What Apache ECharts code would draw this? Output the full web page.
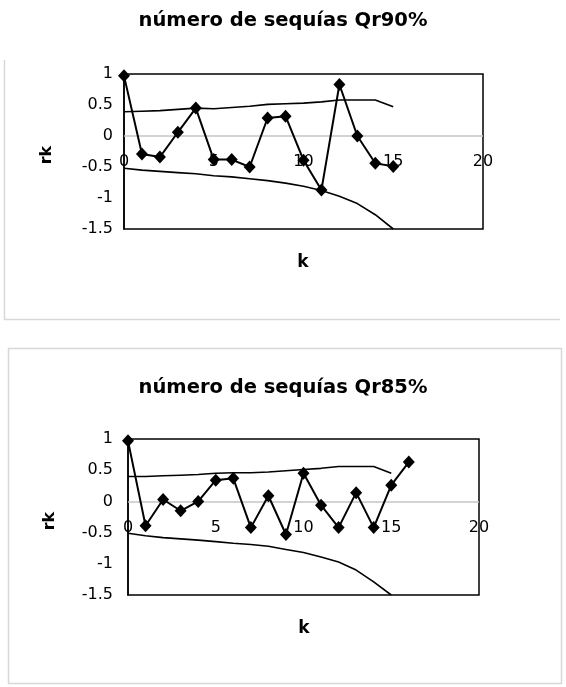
<!DOCTYPE html>
<html>
<head>
<meta charset="utf-8">
<script src="https://cdn.jsdelivr.net/npm/echarts@6/dist/echarts.min.js"></script>
<style>
html,body{margin:0;padding:0;background:#fff;}
#chart{width:566px;height:687px;}
</style>
</head>
<body>
<div id="chart"></div>
<script>
// ---- Data ----
var title90 = 'número de sequías Qr90%';
var title85 = 'número de sequías Qr85%';
var yAxisName = 'rk';
var xAxisName = 'k';

var k90 = [0,1,2,3,4,5,6,7,8,9,10,11,12,13,14,15];
var r90 = [0.97,-0.29,-0.34,0.06,0.45,-0.38,-0.38,-0.50,0.29,0.32,-0.39,-0.87,0.83,0.00,-0.44,-0.49];
var up90 = [0.39,0.40,0.41,0.43,0.45,0.44,0.46,0.48,0.51,0.52,0.53,0.55,0.58,0.58,0.58,0.47];
var lo90 = [-0.52,-0.55,-0.57,-0.59,-0.61,-0.64,-0.66,-0.69,-0.72,-0.76,-0.81,-0.88,-0.97,-1.09,-1.27,-1.50];

var k85 = [0,1,2,3,4,5,6,7,8,9,10,11,12,13,14,15,16];
var r85 = [0.97,-0.39,0.03,-0.15,0.00,0.34,0.37,-0.42,0.09,-0.53,0.45,-0.06,-0.42,0.14,-0.42,0.26,0.63];
var kLim85 = [0,1,2,3,4,5,6,7,8,9,10,11,12,13,14,15];
var up85 = [0.40,0.40,0.41,0.42,0.43,0.45,0.46,0.46,0.47,0.49,0.51,0.53,0.56,0.56,0.56,0.45];
var lo85 = [-0.51,-0.55,-0.58,-0.60,-0.62,-0.645,-0.67,-0.69,-0.72,-0.77,-0.82,-0.89,-0.97,-1.10,-1.29,-1.50];

var xTicks = [0,5,10,15,20];
var yTicks = [-1.5,-1,-0.5,0,0.5,1];
var xAxisCrossY = 0;

function pairs(xs, ys){ return xs.map(function(x,i){ return [x, ys[i]]; }); }

var FONT = 'DejaVu Sans';

function xAxisCfg(gi, off){
  return {
    gridIndex: gi, type: 'value', position: 'bottom', offset: off,
    min: xTicks[0], max: xTicks[xTicks.length-1], interval: 5,
    axisLine: {show: false, onZero: false},
    axisTick: {show: false},
    axisLabel: {color: '#000', fontFamily: FONT, fontSize: 16, margin: 18},
    splitLine: {show: false}
  };
}
function yAxisCfg(gi, margin){
  return {
    gridIndex: gi, type: 'value', min: yTicks[0], max: yTicks[yTicks.length-1], interval: 0.5,
    axisLine: {show: true, onZero: false, lineStyle: {color: '#000', width: 1.5}},
    axisTick: {show: false},
    axisLabel: {color: '#000', fontFamily: FONT, fontSize: 16, margin: margin, padding: [0,0,6,0]},
    splitLine: {show: false}
  };
}
function rkSeries(gi, data){
  return {type: 'line', xAxisIndex: gi, yAxisIndex: gi, data: data, z: 5,
    symbol: 'diamond', symbolSize: [12, 13], showSymbol: true,
    itemStyle: {color: '#000'}, lineStyle: {color: '#000', width: 2}, animation: false};
}
function limSeries(gi, data, withZeroLine){
  var s = {type: 'line', xAxisIndex: gi, yAxisIndex: gi, data: data, z: 3,
    symbol: 'none', lineStyle: {color: '#000', width: 1.6}, animation: false};
  if (withZeroLine) {
    s.markLine = {silent: true, symbol: 'none', label: {show: false}, animation: false,
      lineStyle: {color: '#c4c4c4', type: 'solid', width: 1.5},
      data: [{yAxis: xAxisCrossY}]};
  }
  return s;
}

var chart = echarts.init(document.getElementById('chart'), null, {renderer: 'canvas'});
chart.setOption({
  backgroundColor: '#fff',
  animation: false,
  title: [
    {text: title90, left: 'center', top: 6, textStyle: {fontFamily: FONT, fontSize: 19.5, fontWeight: 'bold', color: '#000'}},
    {text: title85, left: 'center', top: 373, textStyle: {fontFamily: FONT, fontSize: 19.5, fontWeight: 'bold', color: '#000'}}
  ],
  grid: [
    {left: 124, top: 74, width: 359, height: 155, show: true, borderColor: '#000', borderWidth: 1.5, backgroundColor: 'transparent'},
    {left: 128, top: 439, width: 351, height: 156, show: true, borderColor: '#000', borderWidth: 1.5, backgroundColor: 'transparent'}
  ],
  xAxis: [xAxisCfg(0, -93), xAxisCfg(1, -93.6)],
  yAxis: [yAxisCfg(0, 11), yAxisCfg(1, 15)],
  series: [
    limSeries(0, pairs(k90, up90), true),
    limSeries(0, pairs(k90, lo90), false),
    rkSeries(0, pairs(k90, r90)),
    limSeries(1, pairs(kLim85, up85), true),
    limSeries(1, pairs(kLim85, lo85), false),
    rkSeries(1, pairs(k85, r85))
  ],
  graphic: [
    {type: 'text', x: 47, y: 155, rotation: Math.PI/2, style: {text: yAxisName, font: 'bold 16px "DejaVu Sans"', fill: '#000', align: 'center', verticalAlign: 'middle'}},
    {type: 'text', x: 50, y: 521, rotation: Math.PI/2, style: {text: yAxisName, font: 'bold 16px "DejaVu Sans"', fill: '#000', align: 'center', verticalAlign: 'middle'}},
    {type: 'text', x: 303, y: 263, style: {text: xAxisName, font: 'bold 17px "DejaVu Sans"', fill: '#000', align: 'center', verticalAlign: 'middle'}},
    {type: 'text', x: 304, y: 629, style: {text: xAxisName, font: 'bold 17px "DejaVu Sans"', fill: '#000', align: 'center', verticalAlign: 'middle'}},
    {type: 'polyline', shape: {points: [[4.5, 60], [4.5, 319.5], [560, 319.5]]}, style: {stroke: '#d8d8d8', lineWidth: 1.5, fill: null}},
    {type: 'rect', shape: {x: 8.5, y: 348.5, width: 553, height: 335}, style: {stroke: '#d8d8d8', lineWidth: 1.5, fill: null}}
  ]
});
</script>
</body>
</html>
